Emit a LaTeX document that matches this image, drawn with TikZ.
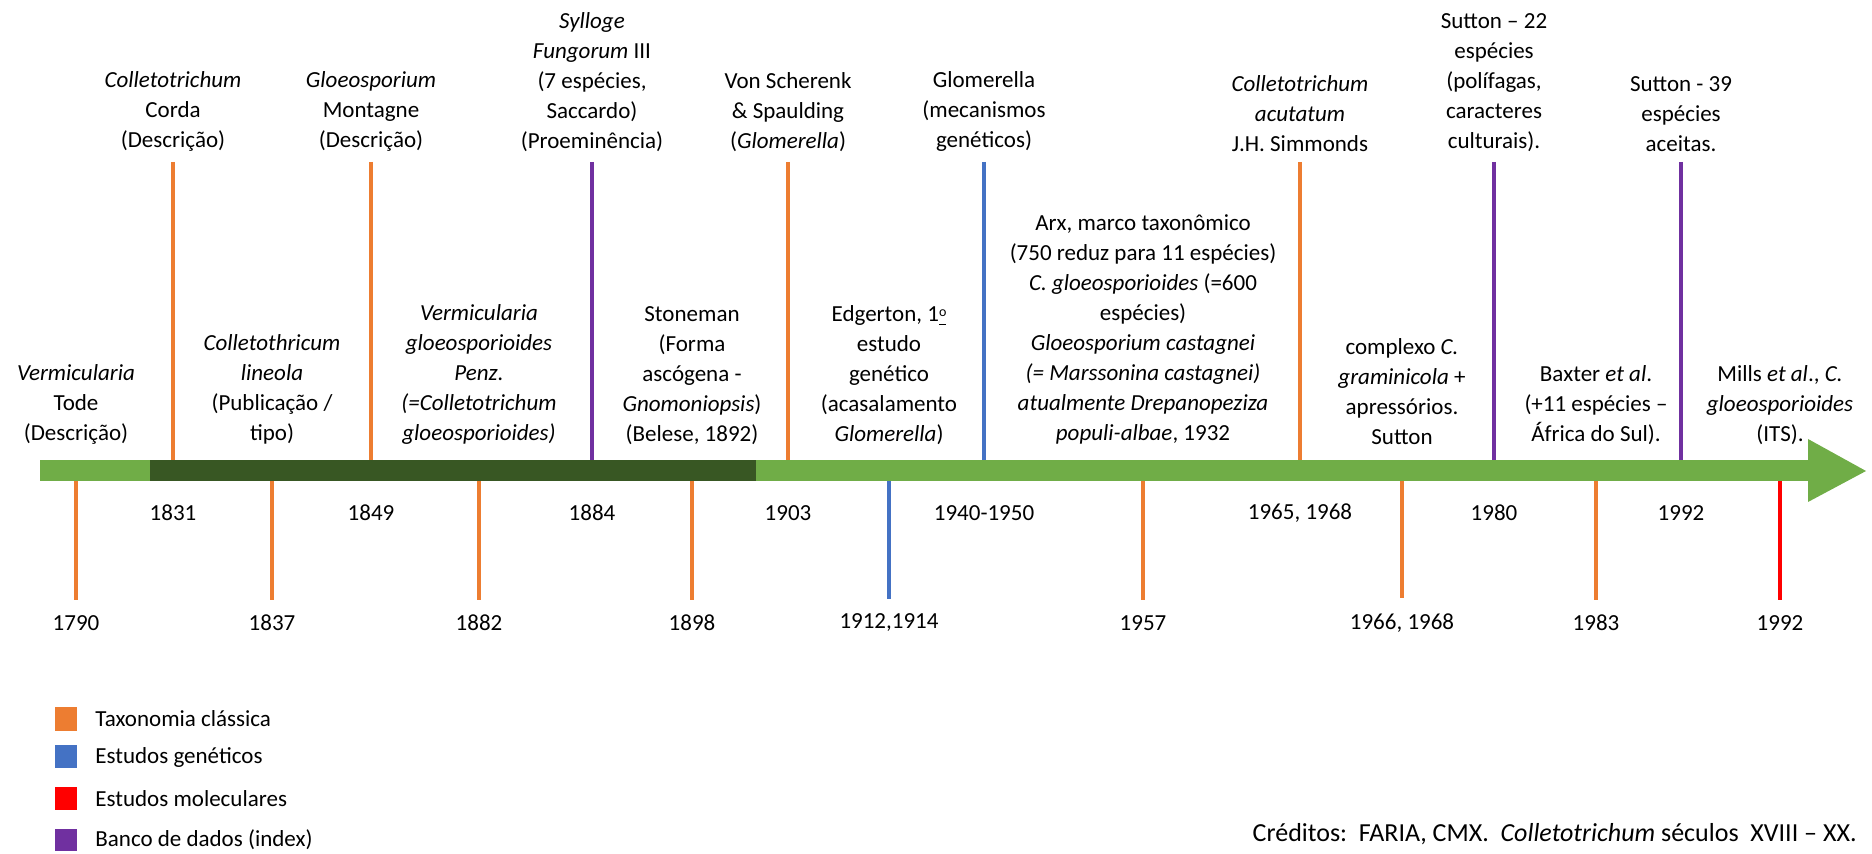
\documentclass[tikz,border=0pt]{standalone}
\usepackage{fontspec}
\setmainfont{Carlito}

\definecolor{taxcol}{HTML}{ED7D31}
\definecolor{gencol}{HTML}{4472C4}
\definecolor{molcol}{HTML}{FF0000}
\definecolor{bancol}{HTML}{7030A0}
\definecolor{barcol}{HTML}{70AD47}
\definecolor{darkbar}{HTML}{385723}

\tikzset{
  evtext/.style={align=center, inner sep=0pt, font=\fontsize{11.5}{15}\selectfont},
  yeartext/.style={inner sep=0pt, font=\fontsize{11.5}{15}\selectfont},
  taxline/.style={draw=taxcol, line width=2.4pt},
  genline/.style={draw=gencol, line width=2.4pt},
  molline/.style={draw=molcol, line width=2.4pt},
  banline/.style={draw=bancol, line width=2.4pt}
}

\begin{document}
\begin{tikzpicture}[x=0.5pt, y=-0.5pt]
    \useasboundingbox (0,0) rectangle (1872,854);

    % Heights of the text rows (in pixels, y grows downwards)
    \def\toptext{152}
    \def\midtext{445}
    \def\upyear{513}
    \def\lowyear{623}

    % The time bar with its arrow head
    \node[fill=barcol, inner sep=0pt, minimum width=884pt, minimum height=10.5pt, anchor=west] (bar) at (40,470.5) {};
    \fill[darkbar] (150,460) rectangle (756,481);
    \fill[barcol] (1808,439) -- (1866,471) -- (1808,502) -- cycle;

    % Events above the bar
    \node[evtext, anchor=south] (corda) at (173,\toptext) {\textit{Colletotrichum}\\Corda\\(Descrição)};
    \node[yeartext] (y1831) at (173,\upyear) {1831};
    \draw[taxline] ([yshift=-5pt]corda.south) -- (corda.south |- bar.north);

    \node[evtext, anchor=south] (montagne) at (371,\toptext) {\textit{Gloeosporium}\\Montagne\\(Descrição)};
    \node[yeartext] (y1849) at (371,\upyear) {1849};
    \draw[taxline] ([yshift=-5pt]montagne.south) -- (montagne.south |- bar.north);

    \node[evtext, anchor=south] (sylloge) at (592,\toptext) {\textit{Sylloge}\\\textit{Fungorum} III\\(7 espécies,\\Saccardo)\\(Proeminência)};
    \node[yeartext] (y1884) at (592,\upyear) {1884};
    \draw[banline] ([yshift=-5pt]sylloge.south) -- (sylloge.south |- bar.north);

    \node[evtext, anchor=south] (scherenk) at (788,\toptext) {Von Scherenk\\\& Spaulding\\(\textit{Glomerella})};
    \node[yeartext] (y1903) at (788,\upyear) {1903};
    \draw[taxline] ([yshift=-5pt]scherenk.south) -- (scherenk.south |- bar.north);

    \node[evtext, anchor=south] (glomerella) at (984,\toptext) {Glomerella\\(mecanismos\\genéticos)};
    \node[yeartext] (y1940) at (984,\upyear) {1940-1950};
    \draw[genline] ([yshift=-5pt]glomerella.south) -- (glomerella.south |- bar.north);

    \node[evtext, anchor=south] (acutatum) at (1300,\toptext) {\textit{Colletotrichum}\\\textit{acutatum}\\J.H. Simmonds};
    \node[yeartext] (y1965) at (1300,\upyear) {1965, 1968};
    \draw[taxline] ([yshift=-5pt]acutatum.south) -- (acutatum.south |- bar.north);

    \node[evtext, anchor=south] (sutton22) at (1494,\toptext) {Sutton – 22\\espécies\\(polífagas,\\caracteres\\culturais).};
    \node[yeartext] (y1980) at (1494,\upyear) {1980};
    \draw[banline] ([yshift=-5pt]sutton22.south) -- (sutton22.south |- bar.north);

    \node[evtext, anchor=south] (sutton39) at (1681,\toptext) {Sutton - 39\\espécies\\aceitas.};
    \node[yeartext] (y1992a) at (1681,\upyear) {1992};
    \draw[banline] ([yshift=-5pt]sutton39.south) -- (sutton39.south |- bar.north);

    % Events below the bar (text sits above the bar)
    \node[evtext, anchor=south] (tode) at (76,\midtext) {\textit{Vermicularia}\\Tode\\(Descrição)};
    \node[yeartext] (y1790) at (76,\lowyear) {1790};
    \draw[taxline] (y1790 |- bar.south) -- ([yshift=7.5pt]y1790.north);

    \node[evtext, anchor=south] (lineola) at (272,\midtext) {\textit{Colletothricum}\\\textit{lineola}\\(Publicação /\\tipo)};
    \node[yeartext] (y1837) at (272,\lowyear) {1837};
    \draw[taxline] (y1837 |- bar.south) -- ([yshift=7.5pt]y1837.north);

    \node[evtext, anchor=south] (penz) at (479,\midtext) {\textit{Vermicularia}\\\textit{gloeosporioides}\\\textit{Penz.}\\\textit{(=Colletotrichum}\\\textit{gloeosporioides)}};
    \node[yeartext] (y1882) at (479,\lowyear) {1882};
    \draw[taxline] (y1882 |- bar.south) -- ([yshift=7.5pt]y1882.north);

    \node[evtext, anchor=south] (stoneman) at (692,\midtext) {Stoneman\\(Forma\\ascógena -\\\textit{Gnomoniopsis})\\(Belese, 1892)};
    \node[yeartext] (y1898) at (692,\lowyear) {1898};
    \draw[taxline] (y1898 |- bar.south) -- ([yshift=7.5pt]y1898.north);

    \node[evtext, anchor=south] (edgerton) at (889,\midtext) {Edgerton, 1\underline{\raisebox{0.45ex}{\scriptsize o}}\\estudo\\genético\\(acasalamento\\\textit{Glomerella})};
    \node[yeartext] (y1912) at (889,\lowyear) {1912,1914};
    \draw[genline] (y1912 |- bar.south) -- ([yshift=7.5pt]y1912.north);

    \node[evtext, anchor=south] (arx) at (1143,\midtext) {Arx, marco taxonômico\\(750 reduz para 11 espécies)\\\textit{C. gloeosporioides} (=600\\espécies)\\\textit{Gloeosporium castagnei}\\\textit{(= Marssonina castagnei)}\\\textit{atualmente Drepanopeziza}\\\textit{populi-albae}, 1932};
    \node[yeartext] (y1957) at (1143,\lowyear) {1957};
    \draw[taxline] (y1957 |- bar.south) -- ([yshift=7.5pt]y1957.north);

    \node[evtext, anchor=south] (graminicola) at (1402,\midtext) {complexo \textit{C.}\\\textit{graminicola} +\\apressórios.\\Sutton};
    \node[yeartext] (y1966) at (1402,\lowyear) {1966, 1968};
    \draw[taxline] (y1966 |- bar.south) -- ([yshift=7.5pt]y1966.north);

    \node[evtext, anchor=south] (baxter) at (1596,\midtext) {Baxter \textit{et al}.\\(+11 espécies –\\África do Sul).};
    \node[yeartext] (y1983) at (1596,\lowyear) {1983};
    \draw[taxline] (y1983 |- bar.south) -- ([yshift=7.5pt]y1983.north);

    \node[evtext, anchor=south] (mills) at (1780,\midtext) {Mills \textit{et al}., \textit{C.}\\\textit{gloeosporioides}\\(ITS).};
    \node[yeartext] (y1992b) at (1780,\lowyear) {1992};
    \draw[molline] (y1992b |- bar.south) -- ([yshift=7.5pt]y1992b.north);

    % Legend
    \fill[taxcol] (55,707) rectangle (77,731);
    \node[yeartext, anchor=west] (legtax) at (95,719) {Taxonomia clássica};
    \fill[gencol] (55,745) rectangle (77,768);
    \node[yeartext, anchor=west] (leggen) at (95,757) {Estudos genéticos};
    \fill[molcol] (55,787) rectangle (77,810);
    \node[yeartext, anchor=west] (legmol) at (95,799) {Estudos moleculares};
    \fill[bancol] (55,829) rectangle (77,851);
    \node[yeartext, anchor=west] (legban) at (95,840) {Banco de dados (index)};

    % Credits
    \node[yeartext, anchor=east, font=\fontsize{13}{16}\selectfont] (creditos) at (1857,834) {Créditos:\ \ FARIA, CMX.\ \ \textit{Colletotrichum} séculos\ \ XVIII – XX.};
\end{tikzpicture}
\end{document}
